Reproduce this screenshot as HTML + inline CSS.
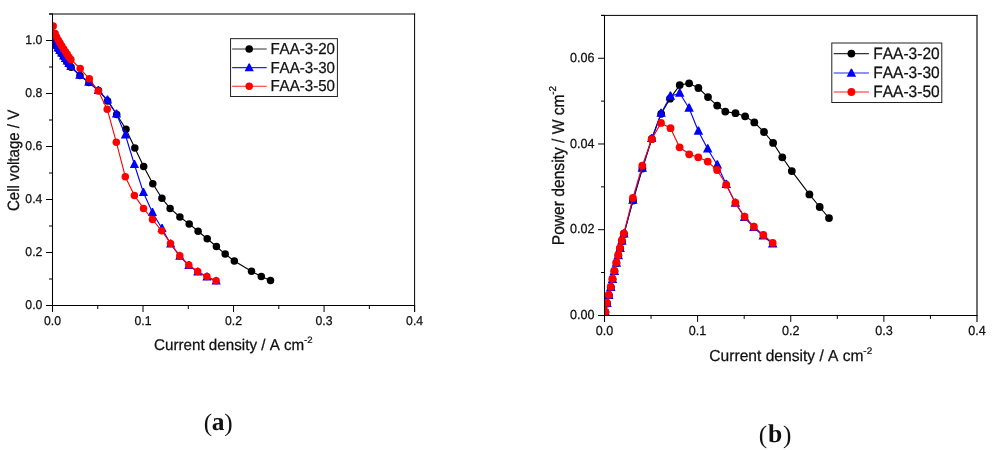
<!DOCTYPE html>
<html lang="en"><head><meta charset="utf-8"><title>Polarization and power density curves</title>
<style>
html,body{margin:0;padding:0;background:#fff;}
body{width:992px;height:450px;overflow:hidden;}
svg{display:block;}
svg text{font-family:"Liberation Sans",Arial,Helvetica,sans-serif;fill:#111;stroke:#111;stroke-width:0.25px;font-kerning:none;text-rendering:geometricPrecision;}
svg text.cap{font-family:"Liberation Serif","Times New Roman",serif;fill:#111;stroke:none;text-rendering:geometricPrecision;}
</style></head><body>
<svg width="992" height="450" viewBox="0 0 992 450">
<rect width="992" height="450" fill="#fff"/>
<defs>
<clipPath id="cl"><rect x="52.5" y="14" width="362.1" height="291.5"/></clipPath>
<clipPath id="cr"><rect x="604.5" y="15.4" width="372.5" height="300"/></clipPath>
</defs>
<g id="chart-a">
<g clip-path="url(#cl)">
<polyline fill="none" stroke="#000" stroke-width="1.12" stroke-linejoin="round" points="53.1,34.3 54.6,41.3 56.4,46.1 58.3,49 60,51.4 61.8,54 63.8,56.8 65.6,59.4 67.4,62 69.1,64.4 71.1,67.3 80,75.5 89,82.5 98.5,90.5 107.6,101 116.7,114.5 126,129.3 134.8,147.9 143.7,166.5 152.8,183.8 161.9,198.3 170.1,208.4 179.9,217 189.2,223.9 198.1,231.2 207.2,238.8 216.4,246.5 225.2,254.1 234.3,261 251.5,271.3 261.3,276.5 270.5,280.5"/>
<circle cx="53.1" cy="34.3" r="3.75" fill="#000"/>
<circle cx="54.6" cy="41.3" r="3.75" fill="#000"/>
<circle cx="56.4" cy="46.1" r="3.75" fill="#000"/>
<circle cx="58.3" cy="49" r="3.75" fill="#000"/>
<circle cx="60" cy="51.4" r="3.75" fill="#000"/>
<circle cx="61.8" cy="54" r="3.75" fill="#000"/>
<circle cx="63.8" cy="56.8" r="3.75" fill="#000"/>
<circle cx="65.6" cy="59.4" r="3.75" fill="#000"/>
<circle cx="67.4" cy="62" r="3.75" fill="#000"/>
<circle cx="69.1" cy="64.4" r="3.75" fill="#000"/>
<circle cx="71.1" cy="67.3" r="3.75" fill="#000"/>
<circle cx="80" cy="75.5" r="3.75" fill="#000"/>
<circle cx="89" cy="82.5" r="3.75" fill="#000"/>
<circle cx="98.5" cy="90.5" r="3.75" fill="#000"/>
<circle cx="107.6" cy="101" r="3.75" fill="#000"/>
<circle cx="116.7" cy="114.5" r="3.75" fill="#000"/>
<circle cx="126" cy="129.3" r="3.75" fill="#000"/>
<circle cx="134.8" cy="147.9" r="3.75" fill="#000"/>
<circle cx="143.7" cy="166.5" r="3.75" fill="#000"/>
<circle cx="152.8" cy="183.8" r="3.75" fill="#000"/>
<circle cx="161.9" cy="198.3" r="3.75" fill="#000"/>
<circle cx="170.1" cy="208.4" r="3.75" fill="#000"/>
<circle cx="179.9" cy="217" r="3.75" fill="#000"/>
<circle cx="189.2" cy="223.9" r="3.75" fill="#000"/>
<circle cx="198.1" cy="231.2" r="3.75" fill="#000"/>
<circle cx="207.2" cy="238.8" r="3.75" fill="#000"/>
<circle cx="216.4" cy="246.5" r="3.75" fill="#000"/>
<circle cx="225.2" cy="254.1" r="3.75" fill="#000"/>
<circle cx="234.3" cy="261" r="3.75" fill="#000"/>
<circle cx="251.5" cy="271.3" r="3.75" fill="#000"/>
<circle cx="261.3" cy="276.5" r="3.75" fill="#000"/>
<circle cx="270.5" cy="280.5" r="3.75" fill="#000"/>
<polyline fill="none" stroke="#00f" stroke-width="1.12" stroke-linejoin="round" points="52.9,33.5 54.4,40.5 56.2,45.3 58.1,48.2 59.8,50.6 61.6,53.2 63.6,56 65.4,58.6 67.2,61.2 68.9,63.6 70.9,66.5 79.8,75.3 88.8,82.3 98.3,90.5 107.5,100 116.5,114 125.4,135 134.4,164.5 143.4,192.5 152.4,212.5 162,228.5 170.7,244 179.8,256.3 188.9,265.5 197.8,272 207,277 216.2,281.2"/>
<path fill="#00f" d="M48.3 36.9H57.5L53.5 29H52.3zM49.8 43.9H59L55 36H53.8zM51.6 48.7H60.8L56.8 40.8H55.6zM53.5 51.6H62.7L58.7 43.7H57.5zM55.2 54H64.4L60.4 46.1H59.2zM57 56.6H66.2L62.2 48.7H61zM59 59.4H68.2L64.2 51.5H63zM60.8 62H70L66 54.1H64.8zM62.6 64.6H71.8L67.8 56.7H66.6zM64.3 67H73.5L69.5 59.1H68.3zM66.3 69.9H75.5L71.5 62H70.3zM75.2 78.7H84.4L80.4 70.8H79.2zM84.2 85.7H93.4L89.4 77.8H88.2zM93.7 93.9H102.9L98.9 86H97.7zM102.9 103.4H112.1L108.1 95.5H106.9zM111.9 117.4H121.1L117.1 109.5H115.9zM120.8 138.4H130L126 130.5H124.8zM129.8 167.9H139L135 160H133.8zM138.8 195.9H148L144 188H142.8zM147.8 215.9H157L153 208H151.8zM157.4 231.9H166.6L162.6 224H161.4zM166.1 247.4H175.3L171.3 239.5H170.1zM175.2 259.7H184.4L180.4 251.8H179.2zM184.3 268.9H193.5L189.5 261H188.3zM193.2 275.4H202.4L198.4 267.5H197.2zM202.4 280.4H211.6L207.6 272.5H206.4zM211.6 284.6H220.8L216.8 276.7H215.6z"/>
<polyline fill="none" stroke="#f00" stroke-width="1.12" stroke-linejoin="round" points="53.2,26 55.1,33.6 56.7,37.2 58.5,40.5 60.1,43.2 61.8,46 63.7,49 65.5,51.7 67.2,54.3 68.9,56.9 70.9,59.5 80.2,68.5 89.3,78.8 98.3,91 107.2,109.2 116.3,142.2 125.3,176.7 134.4,195.4 143.5,208.4 152.5,219.5 161.7,230.8 170.5,243.4 179.8,255.8 188.8,265 197.7,271.5 206.9,276.5 216.1,280.7"/>
<circle cx="53.2" cy="26" r="3.75" fill="#f00"/>
<circle cx="55.1" cy="33.6" r="3.75" fill="#f00"/>
<circle cx="56.7" cy="37.2" r="3.75" fill="#f00"/>
<circle cx="58.5" cy="40.5" r="3.75" fill="#f00"/>
<circle cx="60.1" cy="43.2" r="3.75" fill="#f00"/>
<circle cx="61.8" cy="46" r="3.75" fill="#f00"/>
<circle cx="63.7" cy="49" r="3.75" fill="#f00"/>
<circle cx="65.5" cy="51.7" r="3.75" fill="#f00"/>
<circle cx="67.2" cy="54.3" r="3.75" fill="#f00"/>
<circle cx="68.9" cy="56.9" r="3.75" fill="#f00"/>
<circle cx="70.9" cy="59.5" r="3.75" fill="#f00"/>
<circle cx="80.2" cy="68.5" r="3.75" fill="#f00"/>
<circle cx="89.3" cy="78.8" r="3.75" fill="#f00"/>
<circle cx="98.3" cy="91" r="3.75" fill="#f00"/>
<circle cx="107.2" cy="109.2" r="3.75" fill="#f00"/>
<circle cx="116.3" cy="142.2" r="3.75" fill="#f00"/>
<circle cx="125.3" cy="176.7" r="3.75" fill="#f00"/>
<circle cx="134.4" cy="195.4" r="3.75" fill="#f00"/>
<circle cx="143.5" cy="208.4" r="3.75" fill="#f00"/>
<circle cx="152.5" cy="219.5" r="3.75" fill="#f00"/>
<circle cx="161.7" cy="230.8" r="3.75" fill="#f00"/>
<circle cx="170.5" cy="243.4" r="3.75" fill="#f00"/>
<circle cx="179.8" cy="255.8" r="3.75" fill="#f00"/>
<circle cx="188.8" cy="265" r="3.75" fill="#f00"/>
<circle cx="197.7" cy="271.5" r="3.75" fill="#f00"/>
<circle cx="206.9" cy="276.5" r="3.75" fill="#f00"/>
<circle cx="216.1" cy="280.7" r="3.75" fill="#f00"/>
</g>
<line x1="49" y1="14" x2="415.1" y2="14" stroke="#000" stroke-width="1"/>
<line x1="414.6" y1="13.5" x2="414.6" y2="312" stroke="#000" stroke-width="1"/>
<line x1="52.5" y1="13.5" x2="52.5" y2="312" stroke="#000" stroke-width="1.05"/>
<line x1="46" y1="305.5" x2="415.1" y2="305.5" stroke="#000" stroke-width="1.05"/>
<text transform="translate(52.5 324.8) scale(1 1.04)" font-size="12.25" text-anchor="middle">0.0</text>
<text transform="translate(143.02 324.8) scale(1 1.04)" font-size="12.25" text-anchor="middle">0.1</text>
<text transform="translate(233.55 324.8) scale(1 1.04)" font-size="12.25" text-anchor="middle">0.2</text>
<text transform="translate(324.07 324.8) scale(1 1.04)" font-size="12.25" text-anchor="middle">0.3</text>
<text transform="translate(414.6 324.8) scale(1 1.04)" font-size="12.25" text-anchor="middle">0.4</text>
<text transform="translate(42.4 309.17) scale(1 1.04)" font-size="12.25" text-anchor="end">0.0</text>
<text transform="translate(42.4 256.17) scale(1 1.04)" font-size="12.25" text-anchor="end">0.2</text>
<text transform="translate(42.4 203.17) scale(1 1.04)" font-size="12.25" text-anchor="end">0.4</text>
<text transform="translate(42.4 150.17) scale(1 1.04)" font-size="12.25" text-anchor="end">0.6</text>
<text transform="translate(42.4 97.17) scale(1 1.04)" font-size="12.25" text-anchor="end">0.8</text>
<text transform="translate(42.4 44.17) scale(1 1.04)" font-size="12.25" text-anchor="end">1.0</text>
<path d="M143.02 305.5v6.5M233.55 305.5v6.5M324.07 305.5v6.5M414.6 305.5v6.5M97.76 305.5v3.5M188.29 305.5v3.5M278.81 305.5v3.5M369.34 305.5v3.5M52.5 252.5h-6.5M52.5 199.5h-6.5M52.5 146.5h-6.5M52.5 93.5h-6.5M52.5 40.5h-6.5M52.5 279h-3.5M52.5 226h-3.5M52.5 173h-3.5M52.5 120h-3.5M52.5 67h-3.5M52.5 14h-3.5" stroke="#000" stroke-width="1" fill="none"/>
<rect x="230.55" y="38.65" width="106.85" height="57.85" fill="#fff" stroke="#222" stroke-width="1"/>
<line x1="232.1" y1="49" x2="266.7" y2="49" stroke="#333" stroke-width="1.1"/>
<circle cx="249.2" cy="49" r="3.75" fill="#000"/>
<text transform="translate(270.4 54.06) scale(1 1.055)" font-size="15.1">FAA-3-20</text>
<line x1="232.1" y1="67.6" x2="266.7" y2="67.6" stroke="#22f" stroke-width="1.1"/>
<path fill="#00f" d="M244.6 71.3H253.8L249.8 63.4H248.6z"/>
<text transform="translate(270.4 72.66) scale(1 1.055)" font-size="15.1">FAA-3-30</text>
<line x1="232.1" y1="86.2" x2="266.7" y2="86.2" stroke="#f22" stroke-width="1.1"/>
<circle cx="249.2" cy="86.2" r="3.75" fill="#f00"/>
<text transform="translate(270.4 91.26) scale(1 1.055)" font-size="15.1">FAA-3-50</text>
<text transform="translate(154 349.8) scale(1 1.02)" font-size="15.2">Current density / A cm</text>
<text transform="translate(304.06 342.9) scale(1 0.97)" font-size="9.6">-2</text>
<text transform="translate(19.2 160.4) rotate(-90) scale(1 1.09)" font-size="15.05" text-anchor="middle">Cell voltage / V</text>
</g>
<g id="chart-b">
<g clip-path="url(#cr)">
<polyline fill="none" stroke="#000" stroke-width="1.12" stroke-linejoin="round" points="605.5,312.3 607.1,303.5 608.9,295.3 610.9,287.3 612.6,279.3 614.5,271.3 616.5,263.1 618.4,255.6 620.2,248.4 622,241.1 624,233.9 633,200.5 642.4,168.5 651.8,139 661.2,113.8 670,98.7 679.7,85.1 689.1,83.3 698.4,88 708,97.1 717.2,105.6 725.3,111.6 735.5,113.2 745.1,116.3 754.3,122.4 764,132 773.1,142.9 782.3,157.3 791.8,171.1 809.4,194.4 819.7,207 829,218.1"/>
<circle cx="605.5" cy="312.3" r="3.9" fill="#000"/>
<circle cx="607.1" cy="303.5" r="3.9" fill="#000"/>
<circle cx="608.9" cy="295.3" r="3.9" fill="#000"/>
<circle cx="610.9" cy="287.3" r="3.9" fill="#000"/>
<circle cx="612.6" cy="279.3" r="3.9" fill="#000"/>
<circle cx="614.5" cy="271.3" r="3.9" fill="#000"/>
<circle cx="616.5" cy="263.1" r="3.9" fill="#000"/>
<circle cx="618.4" cy="255.6" r="3.9" fill="#000"/>
<circle cx="620.2" cy="248.4" r="3.9" fill="#000"/>
<circle cx="622" cy="241.1" r="3.9" fill="#000"/>
<circle cx="624" cy="233.9" r="3.9" fill="#000"/>
<circle cx="633" cy="200.5" r="3.9" fill="#000"/>
<circle cx="642.4" cy="168.5" r="3.9" fill="#000"/>
<circle cx="651.8" cy="139" r="3.9" fill="#000"/>
<circle cx="661.2" cy="113.8" r="3.9" fill="#000"/>
<circle cx="670" cy="98.7" r="3.9" fill="#000"/>
<circle cx="679.7" cy="85.1" r="3.9" fill="#000"/>
<circle cx="689.1" cy="83.3" r="3.9" fill="#000"/>
<circle cx="698.4" cy="88" r="3.9" fill="#000"/>
<circle cx="708" cy="97.1" r="3.9" fill="#000"/>
<circle cx="717.2" cy="105.6" r="3.9" fill="#000"/>
<circle cx="725.3" cy="111.6" r="3.9" fill="#000"/>
<circle cx="735.5" cy="113.2" r="3.9" fill="#000"/>
<circle cx="745.1" cy="116.3" r="3.9" fill="#000"/>
<circle cx="754.3" cy="122.4" r="3.9" fill="#000"/>
<circle cx="764" cy="132" r="3.9" fill="#000"/>
<circle cx="773.1" cy="142.9" r="3.9" fill="#000"/>
<circle cx="782.3" cy="157.3" r="3.9" fill="#000"/>
<circle cx="791.8" cy="171.1" r="3.9" fill="#000"/>
<circle cx="809.4" cy="194.4" r="3.9" fill="#000"/>
<circle cx="819.7" cy="207" r="3.9" fill="#000"/>
<circle cx="829" cy="218.1" r="3.9" fill="#000"/>
<polyline fill="none" stroke="#00f" stroke-width="1.12" stroke-linejoin="round" points="605.4,312.4 607,303.6 608.8,295.4 610.8,287.4 612.5,279.4 614.4,271.4 616.4,263.2 618.3,255.7 620.1,248.5 621.9,241.2 623.9,234 632.9,200.3 642.3,168.3 651.7,138.6 661.1,113.3 670.4,96.2 679.7,93.2 689.1,108.2 698.4,131.2 707.7,149 717.3,165 726.3,184.5 735.4,203.2 744.6,217.5 753.9,227.5 763.3,236 772.7,244"/>
<path fill="#00f" d="M600.65 315.91H610.15L606 307.76H604.8zM602.25 307.11H611.75L607.6 298.96H606.4zM604.05 298.91H613.55L609.4 290.76H608.2zM606.05 290.91H615.55L611.4 282.76H610.2zM607.75 282.91H617.25L613.1 274.76H611.9zM609.65 274.91H619.15L615 266.76H613.8zM611.65 266.71H621.15L617 258.56H615.8zM613.55 259.21H623.05L618.9 251.06H617.7zM615.35 252.01H624.85L620.7 243.86H619.5zM617.15 244.71H626.65L622.5 236.56H621.3zM619.15 237.51H628.65L624.5 229.36H623.3zM628.15 203.81H637.65L633.5 195.66H632.3zM637.55 171.81H647.05L642.9 163.66H641.7zM646.95 142.11H656.45L652.3 133.96H651.1zM656.35 116.81H665.85L661.7 108.66H660.5zM665.65 99.71H675.15L671 91.56H669.8zM674.95 96.71H684.45L680.3 88.56H679.1zM684.35 111.71H693.85L689.7 103.56H688.5zM693.65 134.71H703.15L699 126.56H697.8zM702.95 152.51H712.45L708.3 144.36H707.1zM712.55 168.51H722.05L717.9 160.36H716.7zM721.55 188.01H731.05L726.9 179.86H725.7zM730.65 206.71H740.15L736 198.56H734.8zM739.85 221.01H749.35L745.2 212.86H744zM749.15 231.01H758.65L754.5 222.86H753.3zM758.55 239.51H768.05L763.9 231.36H762.7zM767.95 247.51H777.45L773.3 239.36H772.1z"/>
<polyline fill="none" stroke="#f00" stroke-width="1.12" stroke-linejoin="round" points="605.3,311.7 606.9,302.9 608.7,294.7 610.7,286.7 612.4,278.7 614.3,270.7 616.3,262.5 618.2,255 620,247.8 621.8,240.5 623.8,233.3 632.9,197.8 642.3,165.6 651.7,139.2 661,122.9 670.5,128.2 679.6,147.3 689.2,154.3 698.3,157.3 707.7,161.6 717.1,170 726.2,184.7 735.4,202.7 744.6,216.7 753.9,226.7 763.3,235 772.7,242.9"/>
<circle cx="605.3" cy="311.7" r="3.9" fill="#f00"/>
<circle cx="606.9" cy="302.9" r="3.9" fill="#f00"/>
<circle cx="608.7" cy="294.7" r="3.9" fill="#f00"/>
<circle cx="610.7" cy="286.7" r="3.9" fill="#f00"/>
<circle cx="612.4" cy="278.7" r="3.9" fill="#f00"/>
<circle cx="614.3" cy="270.7" r="3.9" fill="#f00"/>
<circle cx="616.3" cy="262.5" r="3.9" fill="#f00"/>
<circle cx="618.2" cy="255" r="3.9" fill="#f00"/>
<circle cx="620" cy="247.8" r="3.9" fill="#f00"/>
<circle cx="621.8" cy="240.5" r="3.9" fill="#f00"/>
<circle cx="623.8" cy="233.3" r="3.9" fill="#f00"/>
<circle cx="632.9" cy="197.8" r="3.9" fill="#f00"/>
<circle cx="642.3" cy="165.6" r="3.9" fill="#f00"/>
<circle cx="651.7" cy="139.2" r="3.9" fill="#f00"/>
<circle cx="661" cy="122.9" r="3.9" fill="#f00"/>
<circle cx="670.5" cy="128.2" r="3.9" fill="#f00"/>
<circle cx="679.6" cy="147.3" r="3.9" fill="#f00"/>
<circle cx="689.2" cy="154.3" r="3.9" fill="#f00"/>
<circle cx="698.3" cy="157.3" r="3.9" fill="#f00"/>
<circle cx="707.7" cy="161.6" r="3.9" fill="#f00"/>
<circle cx="717.1" cy="170" r="3.9" fill="#f00"/>
<circle cx="726.2" cy="184.7" r="3.9" fill="#f00"/>
<circle cx="735.4" cy="202.7" r="3.9" fill="#f00"/>
<circle cx="744.6" cy="216.7" r="3.9" fill="#f00"/>
<circle cx="753.9" cy="226.7" r="3.9" fill="#f00"/>
<circle cx="763.3" cy="235" r="3.9" fill="#f00"/>
<circle cx="772.7" cy="242.9" r="3.9" fill="#f00"/>
</g>
<line x1="601" y1="15.4" x2="977.5" y2="15.4" stroke="#000" stroke-width="1"/>
<line x1="977" y1="14.9" x2="977" y2="321.9" stroke="#222" stroke-width="1.3"/>
<line x1="604.5" y1="14.9" x2="604.5" y2="321.9" stroke="#000" stroke-width="1.05"/>
<line x1="598" y1="315.4" x2="977.5" y2="315.4" stroke="#000" stroke-width="1.05"/>
<text transform="translate(604.5 334.7) scale(1 1.04)" font-size="12.6" text-anchor="middle">0.0</text>
<text transform="translate(697.62 334.7) scale(1 1.04)" font-size="12.6" text-anchor="middle">0.1</text>
<text transform="translate(790.75 334.7) scale(1 1.04)" font-size="12.6" text-anchor="middle">0.2</text>
<text transform="translate(883.88 334.7) scale(1 1.04)" font-size="12.6" text-anchor="middle">0.3</text>
<text transform="translate(977 334.7) scale(1 1.04)" font-size="12.6" text-anchor="middle">0.4</text>
<text transform="translate(594.4 319.2) scale(1 1.04)" font-size="12.6" text-anchor="end">0.00</text>
<text transform="translate(594.4 233.48) scale(1 1.04)" font-size="12.6" text-anchor="end">0.02</text>
<text transform="translate(594.4 147.77) scale(1 1.04)" font-size="12.6" text-anchor="end">0.04</text>
<text transform="translate(594.4 62.06) scale(1 1.04)" font-size="12.6" text-anchor="end">0.06</text>
<path d="M697.62 315.4v6.5M790.75 315.4v6.5M883.88 315.4v6.5M651.06 315.4v3.5M744.19 315.4v3.5M837.31 315.4v3.5M930.44 315.4v3.5M604.5 229.69h-6.5M604.5 143.97h-6.5M604.5 58.26h-6.5M604.5 272.54h-3.5M604.5 186.83h-3.5M604.5 101.11h-3.5M604.5 15.4h-3.5" stroke="#000" stroke-width="1" fill="none"/>
<rect x="831.8" y="43" width="110" height="59.5" fill="#fff" stroke="#222" stroke-width="1"/>
<line x1="833.7" y1="53.6" x2="868.9" y2="53.6" stroke="#333" stroke-width="1.1"/>
<circle cx="851.4" cy="53.6" r="3.9" fill="#000"/>
<text transform="translate(873.3 58.79) scale(1 1.055)" font-size="15.5">FAA-3-20</text>
<line x1="833.7" y1="73" x2="868.9" y2="73" stroke="#22f" stroke-width="1.1"/>
<path fill="#00f" d="M846.65 76.81H856.15L852 68.66H850.8z"/>
<text transform="translate(873.3 78.19) scale(1 1.055)" font-size="15.5">FAA-3-30</text>
<line x1="833.7" y1="92" x2="868.9" y2="92" stroke="#f22" stroke-width="1.1"/>
<circle cx="851.4" cy="92" r="3.9" fill="#f00"/>
<text transform="translate(873.3 97.19) scale(1 1.055)" font-size="15.5">FAA-3-50</text>
<text transform="translate(709.34 360.9) scale(1 1.02)" font-size="15.6">Current density / A cm</text>
<text transform="translate(863.36 353.8) scale(1 0.97)" font-size="9.9">-2</text>
<text transform="translate(563.6 165.4) rotate(-90) translate(-79.82 0) scale(1 1.09)" font-size="15.6">Power density / W cm</text>
<text transform="translate(563.6 165.4) rotate(-90) translate(70.72 -7.5) scale(1 1.02)" font-size="9.9">-2</text>
</g>
<text class="cap" font-size="24.5"><tspan x="203.7" y="430.7" font-size="25.2">(</tspan><tspan x="211.8" y="430" font-weight="bold" font-size="25.5">a</tspan><tspan x="224.3" y="430.7" font-size="25.2">)</tspan></text>
<text class="cap" font-size="24.5"><tspan x="758.7" y="442.5" font-size="25.3">(</tspan><tspan x="767.9" y="441.6" font-weight="bold" font-size="25.7">b</tspan><tspan x="782.9" y="442.5" font-size="25.3">)</tspan></text>
</svg>
</body></html>
